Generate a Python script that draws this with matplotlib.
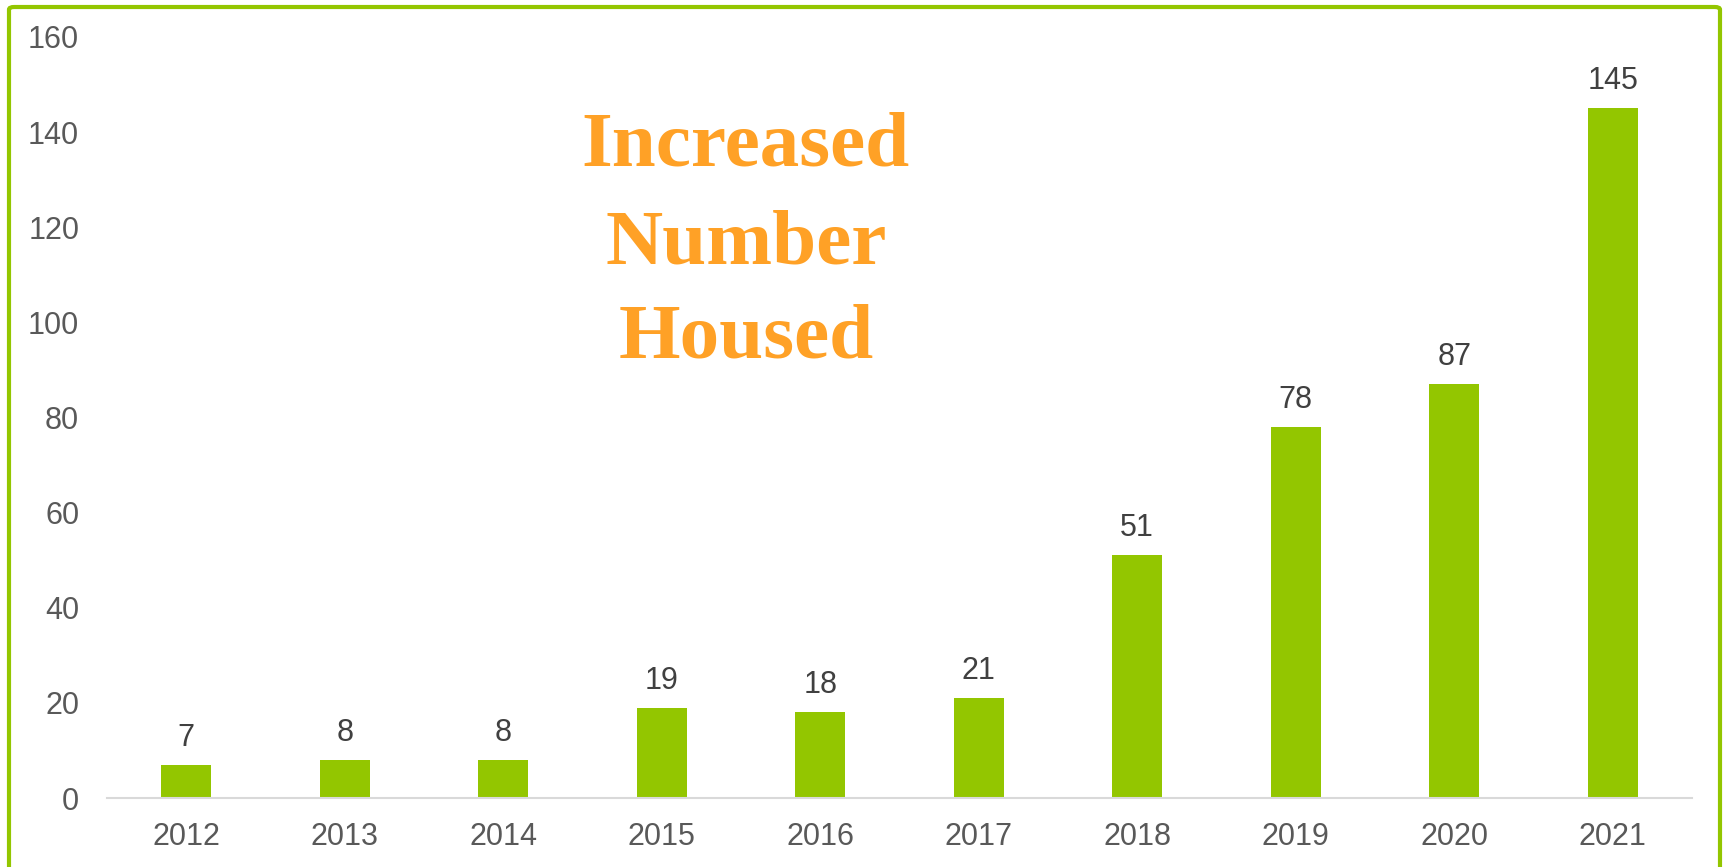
import matplotlib.pyplot as plt
from matplotlib.patches import FancyBboxPatch

years = ['2012', '2013', '2014', '2015', '2016', '2017', '2018', '2019', '2020', '2021']
housed = [7, 8, 8, 19, 18, 21, 51, 78, 87, 145]
yticks = [0, 20, 40, 60, 80, 100, 120, 140, 160]
title_lines = ['Increased', 'Number', 'Housed']

green = '#93C600'
W, H = 1725, 867

fig = plt.figure(figsize=(W / 100, H / 100), dpi=100)
ax = fig.add_axes([107 / W, 1 - 798 / H, (1692 - 107) / W, (798 - 37) / H])

x = range(len(years))
bars = ax.bar(x, housed, width=0.315, color=green, zorder=2)
for b, v in zip(bars, housed):
    ax.annotate(str(v), (b.get_x() + b.get_width() / 2, v), xytext=(0, 12),
                textcoords='offset pixels', ha='center', va='bottom',
                fontsize=22, color='#404040', family='Liberation Sans')

ax.set_xlim(-0.5, len(years) - 0.5)
ax.set_ylim(0, 160)
ax.set_yticks(yticks)
ax.set_xticks(list(x))
ax.set_xticklabels(years)
for s in ['top', 'right', 'left']:
    ax.spines[s].set_visible(False)
ax.spines['bottom'].set_color('#D9D9D9')
ax.spines['bottom'].set_linewidth(1.5)
ax.tick_params(length=0, labelsize=22, labelcolor='#595959')
ax.tick_params(axis='x', pad=17)
ax.tick_params(axis='y', pad=20)
for lab in ax.get_xticklabels() + ax.get_yticklabels():
    lab.set_family('Liberation Sans')

# title lines, baselines
for line, yb in zip(title_lines, [165, 263, 357]):
    fig.text(746 / W, 1 - yb / H, line, ha='center', va='baseline',
             fontsize=57, fontweight='bold', color='#FFA126',
             family='Liberation Serif')

# green frame around the chart, bottom edge runs off the image
frame = FancyBboxPatch((9 / W, -0.1), (1720 - 9) / W, 0.1 + 1 - 7 / H,
                       boxstyle='round,pad=0,rounding_size=0.003',
                       transform=fig.transFigure, fill=False,
                       edgecolor=green, linewidth=3, clip_on=False)
fig.patches.append(frame)

fig.savefig('out.png', dpi=100)
